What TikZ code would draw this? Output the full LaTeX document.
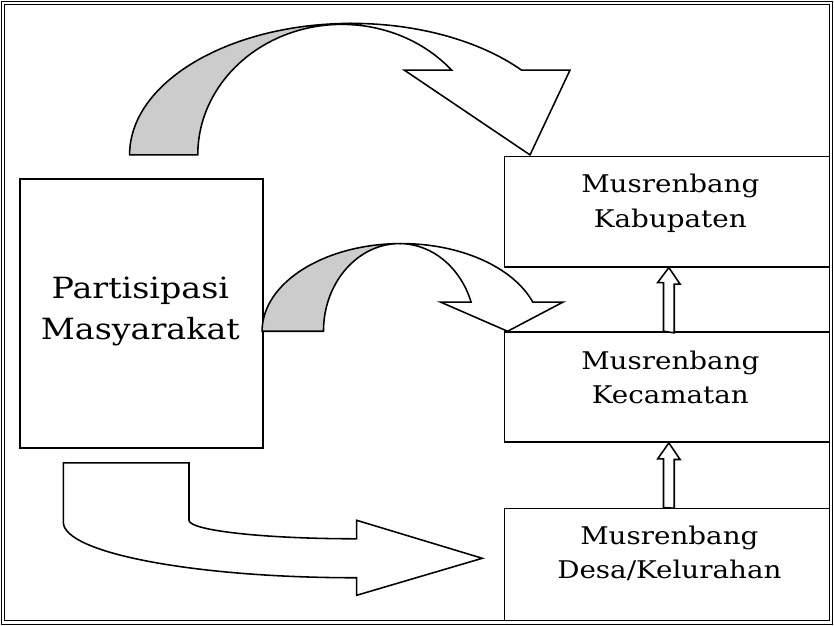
\documentclass[tikz,border=0pt]{standalone}
\usepackage{fontspec}
\setmainfont{DejaVu Serif}[FakeStretch=1.14]
\usetikzlibrary{calc}

\tikzset{
  outline/.style={draw=black, line width=1.6pt, line join=miter},
  level/.style={outline, fill=white, rectangle, inner sep=0pt, anchor=north west},
  sidebox/.style={outline, fill=white, rectangle, inner sep=0pt, anchor=north west},
  smalltxt/.style={anchor=base, inner sep=0pt, font=\fontsize{25}{35}\selectfont},
  bigtxt/.style={anchor=base, inner sep=0pt, font=\fontsize{30}{42}\selectfont},
  backband/.style={outline, fill=gray!40},
  frontband/.style={outline, fill=white},
  frameline/.style={draw=black, line width=0.8pt, line join=miter},
}

% hollow upward block arrow from the top of one box to the bottom of the next
\newcommand\stackarrow[2]{%
  \draw[outline, fill=white] (#1.north -| ax) ++(-5.5,0) -- ++(0,-50) -- ++(-6,0)
    -- (#2.south -| ax) -- ++(11.5,17) -- ++(-6,0) -- ++(0,50) -- cycle;}

\begin{document}
\begin{tikzpicture}[x=1pt, y=-1pt]
\useasboundingbox (-11,-11) rectangle (845,631);

\begin{scope}
% the level boxes run on to the inner frame line
\clip (-6,-6) rectangle (840,626);

% boxes
\node[sidebox, minimum width=249pt, minimum height=276pt] (pm) at (9,172) {};
\node[level, minimum width=360pt, minimum height=113pt] (kab) at (506,149) {};
\node[level, minimum width=360pt, minimum height=113pt] (kec) at (506,329) {};
\node[level, minimum width=360pt, minimum height=140pt] (des) at (506,510) {};

% labels
\node[bigtxt] (pm1) at (133,295) {Partisipasi};
\node[bigtxt] (pm2) at (133,337) {Masyarakat};
\node[smalltxt] (kab1) at (677,187) {Musrenbang};
\node[smalltxt] (kab2) at (677,222) {Kabupaten};
\node[smalltxt] (kec1) at (677,368) {Musrenbang};
\node[smalltxt] (kec2) at (677,403) {Kecamatan};
\node[smalltxt] (des1) at (676,548) {Musrenbang};
\node[smalltxt] (des2) at (676,583) {Desa/Kelurahan};

% stacking arrows between levels
\coordinate (ax) at (675.5,0);
\stackarrow{kec}{kab}
\stackarrow{des}{kec}

% large curved arrow over the top to the regency level
\filldraw[backband] (122,148)
  arc[start angle=180, end angle=90, x radius=228pt, y radius=135pt]
  -- (340,14)
  arc[start angle=90, end angle=180, x radius=148pt, y radius=134pt] -- cycle;
\filldraw[frontband] (350,13)
  arc[start angle=90, end angle=40.1, x radius=228pt, y radius=135pt]
  -- (574,61) -- (533,148) -- (404,61) -- (452.5,61)
  arc[start angle=40.5, end angle=90, x radius=148pt, y radius=134pt] -- cycle;

% smaller curved arrow to the district level
\filldraw[backband] (258,329)
  arc[start angle=180, end angle=90, x radius=143pt, y radius=90pt]
  -- (399,239)
  arc[start angle=90, end angle=180, x radius=78pt, y radius=90pt] -- cycle;
\filldraw[frontband] (401,239)
  arc[start angle=90, end angle=19.47, x radius=143pt, y radius=90pt]
  -- (567,299) -- (510,329) -- (441,299) -- (472.5,299)
  arc[start angle=19.47, end angle=90, x radius=78pt, y radius=90pt] -- cycle;

% bent arrow down and across to the village level
\draw[outline, fill=white] (54,464) -- (183,464) -- (183,523)
  arc[start angle=180, end angle=270, x radius=172pt, y radius=19pt]
  -- (355,523) -- (484,562) -- (355,600) -- (355,582)
  arc[start angle=270, end angle=180, x radius=301pt, y radius=57pt] -- cycle;
\end{scope}

% double frame round the whole figure
\draw[frameline] (-6,-6) rectangle (840,626);
\draw[frameline] (-9.5,-9.5) rectangle (843.5,629.5);
\end{tikzpicture}
\end{document}
